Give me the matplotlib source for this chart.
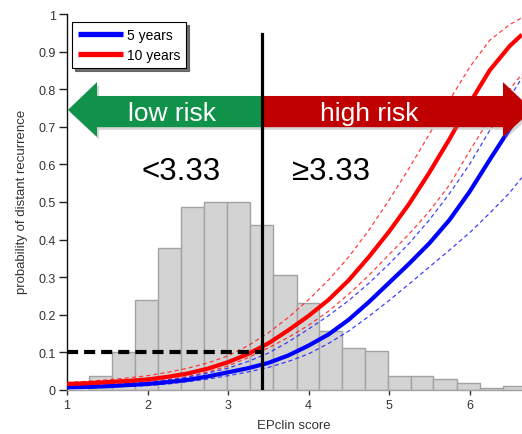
import numpy as np
import matplotlib
matplotlib.use("Agg")
import matplotlib.pyplot as plt
from matplotlib.patches import Polygon

plt.rcParams['font.family'] = ['Liberation Sans', 'DejaVu Sans']
plt.rcParams['lines.scale_dashes'] = False

# ============================================================================
# Data

# histogram of EPclin scores (bin edges and bar heights)
hist_edges = [1.277, 1.557, 1.841, 2.13, 2.42, 2.70, 2.99, 3.275, 3.555,
              3.853, 4.134, 4.416, 4.702, 4.991, 5.268, 5.55, 5.848, 6.13,
              6.412, 6.70]
hist_heights = [0.038, 0.10, 0.239, 0.377, 0.488, 0.499, 0.499, 0.439,
                0.306, 0.231, 0.158, 0.112, 0.103, 0.038, 0.038, 0.029,
                0.018, 0.005, 0.010]

# risk curves: probability of distant recurrence vs EPclin score
score = [1.0, 1.25, 1.5, 1.75, 2.0, 2.25, 2.5, 2.75, 3.0, 3.25, 3.5, 3.75,
         4.0, 4.25, 4.5, 4.75, 5.0, 5.25, 5.5, 5.75, 6.0, 6.25, 6.5, 6.65]

p5_mid = [0.007, 0.008, 0.010, 0.013, 0.016, 0.021, 0.027, 0.036, 0.047,
          0.058, 0.072, 0.092, 0.118, 0.148, 0.187, 0.234, 0.285, 0.336,
          0.390, 0.452, 0.527, 0.612, 0.695, 0.745]
p5_hi = [0.009, 0.011, 0.013, 0.016, 0.019, 0.026, 0.034, 0.045, 0.058,
         0.076, 0.098, 0.128, 0.162, 0.198, 0.238, 0.284, 0.335, 0.390,
         0.452, 0.522, 0.600, 0.690, 0.778, 0.830]
p5_lo = [0.005, 0.006, 0.008, 0.010, 0.012, 0.016, 0.022, 0.029, 0.038,
         0.048, 0.060, 0.076, 0.096, 0.124, 0.157, 0.196, 0.238, 0.282,
         0.327, 0.372, 0.418, 0.470, 0.525, 0.565]

p10_mid = [0.016, 0.018, 0.021, 0.024, 0.028, 0.035, 0.044, 0.057, 0.074,
           0.096, 0.124, 0.159, 0.197, 0.240, 0.292, 0.354, 0.421, 0.495,
           0.578, 0.667, 0.762, 0.850, 0.915, 0.945]
p10_hi = [0.020, 0.023, 0.027, 0.032, 0.038, 0.047, 0.058, 0.072, 0.091,
          0.118, 0.152, 0.193, 0.240, 0.293, 0.354, 0.425, 0.505, 0.590,
          0.680, 0.770, 0.858, 0.930, 0.972, 0.990]
p10_lo = [0.012, 0.014, 0.016, 0.019, 0.022, 0.028, 0.036, 0.048, 0.064,
          0.086, 0.112, 0.140, 0.172, 0.210, 0.255, 0.305, 0.360, 0.415,
          0.475, 0.545, 0.635, 0.722, 0.800, 0.840]

threshold = 3.42
risk_level = 0.1

y_ticks = [0, 0.1, 0.2, 0.3, 0.4, 0.5, 0.6, 0.7, 0.8, 0.9, 1]
y_tick_labels = ['0', '0.1', '0.2', '0.3', '0.4', '0.5', '0.6', '0.7',
                 '0.8', '0.9', '1']
x_ticks = [1, 2, 3, 4, 5, 6]

# ============================================================================
# Figure and axes

fig = plt.figure(figsize=(5.22, 4.35), dpi=100)
ax = fig.add_axes([67 / 522, 44 / 435, 455 / 522, 376 / 435])
ax.set_xlim(1, 6.652)
ax.set_ylim(0, 1)

# Histogram
ax.bar(hist_edges[:-1], hist_heights, width=np.diff(hist_edges),
       align='edge', color='#d3d3d3', edgecolor='#a3a3a3', linewidth=1,
       zorder=1)

# Confidence bands (dashed)
dash = (0, (3, 2.2))
ax.plot(score, p10_hi, color='#ff2020', lw=0.9, linestyle=dash, alpha=0.85,
        zorder=2)
ax.plot(score, p10_lo, color='#ff2020', lw=0.9, linestyle=dash, alpha=0.85,
        zorder=2)
ax.plot(score, p5_hi, color='#2020ff', lw=0.9, linestyle=dash, alpha=0.85,
        zorder=2)
ax.plot(score, p5_lo, color='#2020ff', lw=0.9, linestyle=dash, alpha=0.85,
        zorder=2)

# Main curves
l5, = ax.plot(score, p5_mid, color='#0000ff', lw=3, zorder=3,
              solid_capstyle='butt', solid_joinstyle='round')
l10, = ax.plot(score, p10_mid, color='#ff0000', lw=3, zorder=3,
               solid_capstyle='butt', solid_joinstyle='round')

# Arrows
green_pts = [(1.012, 0.745), (1.373, 0.819), (1.373, 0.782), (threshold, 0.782),
             (threshold, 0.699), (1.373, 0.699), (1.373, 0.673)]
red_pts = [(threshold, 0.782), (6.416, 0.782), (6.416, 0.819), (6.78, 0.745),
           (6.416, 0.673), (6.416, 0.699), (threshold, 0.699)]
for pts, col in [(green_pts, '#10924a'), (red_pts, '#c00000')]:
    sh = [(x + 0.025, y - 0.007) for x, y in pts]
    ax.add_patch(Polygon(sh, closed=True, facecolor='#888888', alpha=0.35,
                         edgecolor='none', zorder=4))
    ax.add_patch(Polygon(pts, closed=True, facecolor=col, edgecolor='none',
                         zorder=5))

ax.text(2.30, 0.718, 'low risk', color='white', fontsize=19,
        ha='center', va='baseline', zorder=6)
ax.text(4.75, 0.718, 'high risk', color='white', fontsize=19,
        ha='center', va='baseline', zorder=6)

ax.text(2.416, 0.561, '<3.33', color='black', fontsize=22.5,
        ha='center', va='baseline', zorder=6)
ax.text(4.28, 0.561, '\u22653.33', color='black', fontsize=22.5,
        ha='center', va='baseline', zorder=6)

# Threshold lines
ax.plot([1, threshold], [risk_level, risk_level], color='black', lw=3,
        dashes=(8, 4.3), zorder=7)
ax.plot([threshold, threshold], [0.0, 0.947], color='black', lw=2.3, zorder=8)

# Legend
leg = ax.legend([l5, l10], ['5 years', '10 years'], loc='upper left',
                bbox_to_anchor=(0.011, 0.979), borderaxespad=0,
                fancybox=False, edgecolor='black', framealpha=1,
                shadow={'color': '0.3', 'alpha': 0.8}, fontsize=10,
                handlelength=3.2, handletextpad=0.3, labelspacing=0.4,
                borderpad=0.45)
leg.get_frame().set_linewidth(0.8)
for h in leg.legend_handles:
    h.set_linewidth(3.8)
leg.set_zorder(9)

# Axes styling
ax.spines['top'].set_visible(False)
ax.spines['right'].set_visible(False)
ax.spines['left'].set_color('#111111')
ax.spines['left'].set_linewidth(1)
ax.spines['bottom'].set_color('#a3a3a3')
ax.spines['bottom'].set_linewidth(1)

ax.set_yticks(y_ticks)
ax.set_yticklabels(y_tick_labels)
ax.set_xticks(x_ticks)
ax.tick_params(axis='y', length=6, width=1, color='#222222', labelsize=9,
               labelcolor='#333333', pad=2)
ax.tick_params(axis='x', length=3.5, width=1, color='#333333', labelsize=9,
               labelcolor='#333333', pad=3)

fig.text(22 / 522, 1 - 202 / 435, 'probability of distant recurrence',
         rotation=90, ha='center', va='center', fontsize=9.5,
         color='#333333')
fig.text(294 / 522, 1 - 426 / 435, 'EPclin score', ha='center', va='center',
         fontsize=9.5, color='#333333')

fig.savefig('out.png', dpi=100)
